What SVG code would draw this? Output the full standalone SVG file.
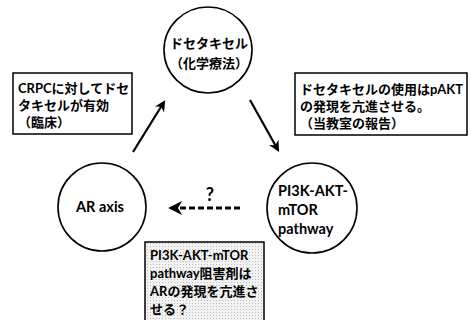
<svg xmlns="http://www.w3.org/2000/svg" width="470" height="320" viewBox="0 0 470 320">
<style>
.n{fill:#fff;stroke:#000;stroke-width:1.6}
.b{fill:#fff;stroke:#000;stroke-width:1.5}
.t{font-family:"Lato","Noto Sans CJK JP",sans-serif;font-size:13px;font-weight:bold;fill:#000}
.l{font-size:14.5px}
.c{stroke:#000;stroke-width:2.2;fill:none}
</style>
<defs>
<marker id="ah" viewBox="0 0 10 10" refX="8" refY="5" markerWidth="5" markerHeight="5" orient="auto" markerUnits="strokeWidth">
<path d="M0,0 L10,5 L0,10 L3,5 Z" fill="#000"/>
</marker>
<pattern id="dots" width="3" height="3" patternUnits="userSpaceOnUse">
<rect width="3" height="3" fill="#f2f2f2"/>
<rect x="0" y="0" width="1" height="1" fill="#bdbdbd"/>
</pattern>
</defs>
<rect width="470" height="320" fill="#fff"/>
<g id="connectors">
<line class="c" x1="133" y1="152" x2="164" y2="102" marker-end="url(#ah)"/>
<line class="c" x1="250" y1="100" x2="278" y2="150" marker-end="url(#ah)"/>
<line x1="240" y1="208" x2="171" y2="208" stroke="#000" stroke-width="2.8" stroke-dasharray="6,3" marker-end="url(#ah)"/>
<text class="t" x="210" y="201" text-anchor="middle" style="font-size:18px">?</text>
</g>
<g id="docetaxel">
<ellipse class="n" cx="208" cy="50" rx="44" ry="43"/>
<text class="t" x="209" y="48" text-anchor="middle">ドセタキセル</text>
<text class="t" x="209" y="68" text-anchor="middle">（化学療法）</text>
</g>
<g id="ar-axis">
<circle class="n" cx="102" cy="207" r="44"/>
<text class="t l" x="100" y="212" text-anchor="middle">AR axis</text>
</g>
<g id="pi3k">
<circle class="n" cx="312" cy="208" r="45"/>
<text class="t l" x="278" y="196">PI3K-AKT-</text>
<text class="t l" x="278" y="215">mTOR</text>
<text class="t l" x="278" y="234">pathway</text>
</g>
<g id="box-left">
<rect class="b" x="13" y="73" width="119" height="61"/>
<text class="t" x="18" y="93">CRPCに対してドセ</text>
<text class="t" x="18" y="110">タキセルが有効</text>
<text class="t" x="18" y="127">（臨床）</text>
</g>
<g id="box-right">
<rect class="b" x="295" y="73" width="172" height="62"/>
<text class="t" x="300" y="94">ドセタキセルの使用はpAKT</text>
<text class="t" x="300" y="111">の発現を亢進させる。</text>
<text class="t" x="300" y="128">（当教室の報告）</text>
</g>
<g id="box-bottom">
<rect x="145" y="242" width="119" height="82" fill="url(#dots)" stroke="#000" stroke-width="1.5"/>
<text class="t" x="150" y="260">PI3K-AKT-mTOR</text>
<text class="t" x="150" y="278">pathway阻害剤は</text>
<text class="t" x="150" y="296">ARの発現を亢進さ</text>
<text class="t" x="150" y="314">せる？</text>
</g>
</svg>
